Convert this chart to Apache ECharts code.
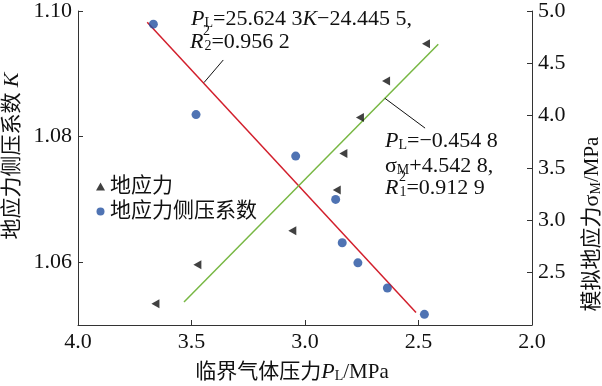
<!DOCTYPE html>
<html><head><meta charset="utf-8">
<script src="https://cdn.jsdelivr.net/npm/echarts@6/dist/echarts.min.js"></script>
<style>html,body{margin:0;padding:0;background:#fff}#c{width:602px;height:386px}</style>
</head><body><div id="c"></div>
<script>
// ---- data ----
const pressureK = [3.668, 3.480, 3.041, 2.865, 2.836, 2.767, 2.637, 2.474];
const coefK     = [1.0979, 1.0835, 1.0769, 1.0700, 1.0631, 1.0599, 1.0559, 1.0517];
const pressureS = [3.659, 3.474, 3.056, 2.860, 2.831, 2.758, 2.643, 2.467];
const stressS   = [2.204, 2.576, 2.901, 3.289, 3.638, 3.982, 4.332, 4.688];
const fitKLine  = [[3.695, 1.0982], [2.511, 1.0520]];
const fitSLine  = [[3.533, 2.220], [2.413, 4.683]];
const leaderK   = [[3.360, 1.0922], [3.445, 1.0886]];
const leaderS   = [[2.648, 4.166], [2.471, 3.881]];
const kTicks = [1.06, 1.08, 1.10];
const sTicks = [2.5, 3.0, 3.5, 4.0, 4.5, 5.0];
const legendNames = ['地应力', '地应力侧压系数'];

const SERIF = '"Liberation Serif","Times New Roman","Noto Sans CJK SC",serif';
const FS = 22;
const rich = {
  i: {fontStyle: 'italic', fontFamily: SERIF, fontSize: FS, lineHeight: 22},
  s: {fontFamily: SERIF, fontSize: FS, lineHeight: 22},
  sub: {fontFamily: SERIF, fontSize: 14, lineHeight: 12, verticalAlign: 'bottom'},
  sub2: {fontFamily: SERIF, fontSize: 14, lineHeight: 8, verticalAlign: 'bottom', padding: [0, 0, 0, 1]}
};
function txt(x, y, text, extra) {
  return Object.assign({
    type: 'text', x: x, y: y, z: 100,
    style: Object.assign({
      text: text, fontFamily: SERIF, fontSize: FS, lineHeight: 22, fill: '#111',
      align: 'left', verticalAlign: 'middle', rich: rich
    }, (extra && extra.style) || {})
  }, extra ? {rotation: extra.rotation || 0} : {});
}
function sup(x, y, t) {
  return {type: 'text', x: x, y: y, z: 100,
    style: {text: t, fontFamily: SERIF, fontSize: 14, fill: '#111', align: 'left', verticalAlign: 'middle'}};
}

const axisCommon = {
  axisLine: {show: true, lineStyle: {color: '#333', width: 1}},
  axisTick: {show: true, inside: true, length: 5, lineStyle: {color: '#333'}},
  splitLine: {show: false},
  axisLabel: {fontFamily: SERIF, fontSize: FS, color: '#111', margin: 6}
};

const chart = echarts.init(document.getElementById('c'), null, {renderer: 'canvas'});
chart.setOption({
  animation: false,
  backgroundColor: '#fff',
  grid: {left: 78, right: 70, top: 9, bottom: 61, containLabel: false},
  xAxis: Object.assign({}, axisCommon, {
    type: 'value', min: 2, max: 4, interval: 0.5, inverse: true,
    axisLabel: Object.assign({}, axisCommon.axisLabel, {formatter: v => v.toFixed(1)})
  }),
  yAxis: [
    Object.assign({}, axisCommon, {
      type: 'value', min: 1.05, max: 1.10, position: 'left',
      axisTick: Object.assign({}, axisCommon.axisTick, {customValues: kTicks}),
      axisLabel: Object.assign({}, axisCommon.axisLabel, {customValues: kTicks, formatter: v => v.toFixed(2)})
    }),
    Object.assign({}, axisCommon, {
      type: 'value', min: 2, max: 5, interval: 0.5, position: 'right',
      axisTick: Object.assign({}, axisCommon.axisTick, {customValues: sTicks}),
      axisLabel: Object.assign({}, axisCommon.axisLabel, {customValues: sTicks, formatter: v => v.toFixed(1)})
    })
  ],
  legend: {
    orient: 'vertical', left: 91, top: 171, itemWidth: 9, itemHeight: 8, itemGap: 4,
    symbolRotate: 0,
    textStyle: {fontFamily: SERIF, fontSize: 21, color: '#111', padding: [0, 0, 0, 0]},
    data: [{name: legendNames[0], icon: 'triangle'}, {name: legendNames[1], icon: 'circle'}]
  },
  series: [
    {type: 'line', yAxisIndex: 0, data: fitKLine, symbol: 'none', silent: true,
      lineStyle: {color: '#d21f2c', width: 1.5}, z: 2},
    {type: 'line', yAxisIndex: 1, data: fitSLine, symbol: 'none', silent: true,
      lineStyle: {color: '#77b743', width: 1.5}, z: 2},
    {type: 'line', yAxisIndex: 0, data: leaderK, symbol: 'none', silent: true,
      lineStyle: {color: '#111', width: 1}, z: 2},
    {type: 'line', yAxisIndex: 1, data: leaderS, symbol: 'none', silent: true,
      lineStyle: {color: '#111', width: 1}, z: 2},
    {name: legendNames[0], type: 'scatter', yAxisIndex: 1,
      data: pressureS.map((p, i) => [p, stressS[i]]),
      symbol: 'triangle', symbolSize: [9, 8], symbolRotate: 90,
      itemStyle: {color: '#111'}, z: 5},
    {name: legendNames[1], type: 'scatter', yAxisIndex: 0,
      data: pressureK.map((p, i) => [p, coefK[i]]),
      symbol: 'circle', symbolSize: 9,
      itemStyle: {color: '#2350a0'}, z: 5}
  ],
  graphic: [
    txt(191, 19, '{i|P}{sub|L}=25.624 3{i|K}−24.445 5,'),
    txt(190, 42, '{i|R}{sub2|2}=0.956 2'),
    sup(203, 31, '2'),
    txt(385, 141, '{i|P}{sub|L}=−0.454 8'),
    txt(385, 166, '{s|σ}{sub|M}+4.542 8,'),
    txt(385, 188, '{i|R}{sub2|1}=0.912 9'),
    sup(399, 177, '2'),
    txt(292, 372, '临界气体压力{i|P}{sub|L}/MPa', {style: {align: 'center', fontSize: 21}}),
    txt(12, 156, '地应力侧压系数 {i|K}', {rotation: Math.PI / 2, style: {align: 'center', fontSize: 21}}),
    txt(592, 224, '模拟地应力{s|σ}{sub|M}/MPa', {rotation: Math.PI / 2, style: {align: 'center', fontSize: 21}})
  ]
});
</script>
</body></html>
